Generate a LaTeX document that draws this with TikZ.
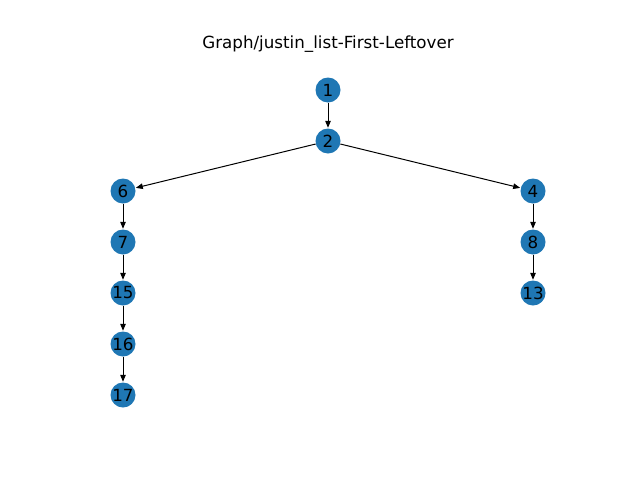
\documentclass[tikz,border=0pt]{standalone}
\usepackage{fontspec}
\setmainfont{DejaVu Sans}
\usetikzlibrary{arrows.meta}
\definecolor{nodeblue}{HTML}{1F77B4}
\tikzset{
  vert/.style={circle, fill=nodeblue, minimum size=25pt, inner sep=0pt, font=\fontsize{16.7}{18}\selectfont, text=black},
  edge/.style={draw=black, line width=1pt, -{Triangle[length=7pt,width=5.5pt]}, shorten >=0.5pt}
}
\begin{document}
\begin{tikzpicture}[x=1pt,y=-1pt]
\useasboundingbox (0,0) rectangle (640,480);
\node[font=\fontsize{16.7}{18}\selectfont] (title) at (328,44) {Graph/justin\_list-First-Leftover};
\node[vert] (n1) at (328,90) {1};
\node[vert] (n2) at (328,141) {2};
\node[vert] (n6) at (123,191) {6};
\node[vert] (n4) at (533,191) {4};
\node[vert] (n7) at (123,242) {7};
\node[vert] (n8) at (533,242) {8};
\node[vert] (n15) at (123,293) {15};
\node[vert] (n13) at (533,293) {13};
\node[vert] (n16) at (123,344) {16};
\node[vert] (n17) at (123,395) {17};
\draw[edge] (n1) -- (n2);
\draw[edge] (n2) -- (n6);
\draw[edge] (n2) -- (n4);
\draw[edge] (n6) -- (n7);
\draw[edge] (n7) -- (n15);
\draw[edge] (n15) -- (n16);
\draw[edge] (n16) -- (n17);
\draw[edge] (n4) -- (n8);
\draw[edge] (n8) -- (n13);
\end{tikzpicture}
\end{document}
